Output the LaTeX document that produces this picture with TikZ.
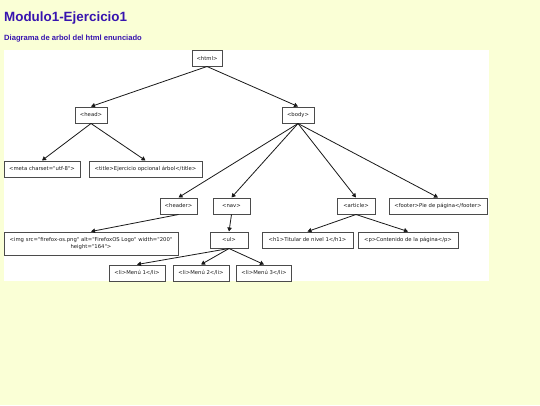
\documentclass[tikz,border=0pt]{standalone}
\usepackage{fontspec}
\setmainfont{Liberation Sans}
\newfontfamily\nodefont{DejaVu Sans}
\usetikzlibrary{arrows.meta}
\definecolor{bgyellow}{RGB}{250,255,214}
\definecolor{titleblue}{RGB}{55,20,175}
\definecolor{boxline}{RGB}{75,75,75}
\definecolor{edgeline}{RGB}{25,25,25}
\tikzset{
  tagbox/.style={draw=boxline, line width=1pt, fill=white, inner sep=1pt,
    font=\nodefont\fontsize{5.3pt}{6.4pt}\selectfont, text=black!90},
  link/.style={draw=edgeline, line width=0.8pt, -{Triangle[length=4pt,width=4.4pt]}},
}
\begin{document}
\begin{tikzpicture}[x=1pt,y=-1pt]
\useasboundingbox (0,0) rectangle (540,405);
\fill[bgyellow] (0,0) rectangle (540,405);
\fill[white] (4,50) rectangle (489,281);
\node[anchor=base west, inner sep=0, text=titleblue, font=\bfseries\fontsize{13.4pt}{15pt}\selectfont] (title) at (4,21) {Modulo1-Ejercicio1};
\node[anchor=base west, inner sep=0, text=titleblue, font=\bfseries\fontsize{7.6pt}{9pt}\selectfont] (subtitle) at (4,40) {Diagrama de arbol del html enunciado};

\node[tagbox, minimum width=30pt, minimum height=16pt] (html) at (207,58) {<html>};
\node[tagbox, minimum width=32pt, minimum height=16pt] (head) at (91,115) {<head>};
\node[tagbox, minimum width=32pt, minimum height=16pt] (body) at (298,115) {<body>};
\node[tagbox, minimum width=76pt, minimum height=16pt] (meta) at (42,169) {<meta charset="utf-8">};
\node[tagbox, minimum width=113pt, minimum height=16pt] (titletag) at (145.5,169) {<title>Ejercicio opcional árbol</title>};
\node[tagbox, minimum width=37pt, minimum height=16pt] (header) at (178.5,206) {<header>};
\node[tagbox, minimum width=37pt, minimum height=16pt] (nav) at (231.5,206) {<nav>};
\node[tagbox, minimum width=38pt, minimum height=16pt] (article) at (356,206) {<article>};
\node[tagbox, minimum width=98pt, minimum height=16pt] (footer) at (438,206) {<footer>Pie de página</footer>};
\node[tagbox, minimum width=174pt, minimum height=23pt, align=center] (img) at (91,243.5) {<img src="firefox-os.png" alt="FirefoxOS Logo" width="200"\\height="164">};
\node[tagbox, minimum width=38pt, minimum height=16pt] (ul) at (229,240) {<ul>};
\node[tagbox, minimum width=91pt, minimum height=16pt] (h1) at (307.5,240) {<h1>Titular de nivel 1</h1>};
\node[tagbox, minimum width=100pt, minimum height=16pt] (p) at (408,240) {<p>Contenido de la página</p>};
\node[tagbox, minimum width=56pt, minimum height=16pt] (li1) at (137,273) {<li>Menú 1</li>};
\node[tagbox, minimum width=56pt, minimum height=16pt] (li2) at (201,273) {<li>Menú 2</li>};
\node[tagbox, minimum width=55pt, minimum height=16pt] (li3) at (264,273) {<li>Menú 3</li>};

\draw[link] (html.south) -- (head.north);
\draw[link] (html.south) -- (body.north);
\draw[link] (head.south) -- (meta.north);
\draw[link] (head.south) -- (titletag.north);
\draw[link] (body.south) -- (header.north);
\draw[link] (body.south) -- (nav.north);
\draw[link] (body.south) -- (article.north);
\draw[link] (body.south) -- (footer.north);
\draw[link] (header.south) -- (img.north);
\draw[link] (nav.south) -- (ul.north);
\draw[link] (ul.south) -- (li1.north);
\draw[link] (ul.south) -- (li2.north);
\draw[link] (ul.south) -- (li3.north);
\draw[link] (article.south) -- (h1.north);
\draw[link] (article.south) -- (p.north);
\end{tikzpicture}
\end{document}
